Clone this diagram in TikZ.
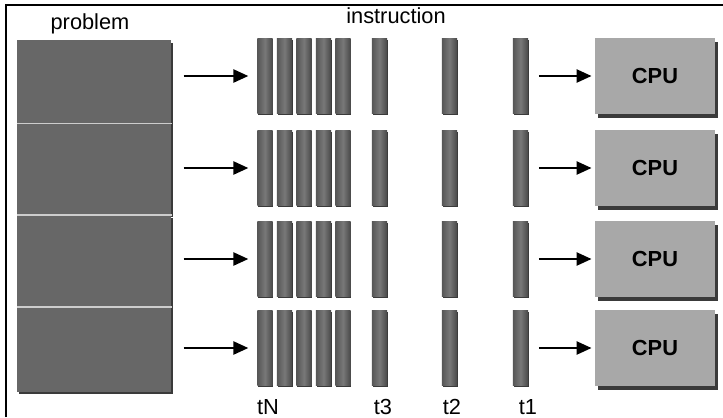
\documentclass[tikz,border=0pt]{standalone}
\usepackage{fontspec}
\setmainfont{Liberation Sans}
\usetikzlibrary{arrows.meta,positioning,shadows}
\definecolor{blockgray}{RGB}{103,103,103}
\definecolor{bargray}{RGB}{120,120,120}
\definecolor{bardark}{RGB}{72,72,72}
\definecolor{cpugray}{RGB}{168,168,168}
\definecolor{edgedark}{RGB}{58,58,58}
\definecolor{seamgray}{RGB}{205,205,205}

\begin{document}
\begin{tikzpicture}[x=0.025cm, y=-0.025cm,
    every node/.style={font=\fontsize{15.5}{18}\selectfont},
    band/.style={fill=blockgray, minimum width=3.85cm, inner sep=0pt,
        drop shadow={shadow xshift=1.4pt, shadow yshift=-1.6pt, fill=edgedark, opacity=1}},
    seam/.style={seamgray, line width=1.2pt},
    bar/.style={minimum width=0.38cm, minimum height=1.875cm, inner sep=0pt,
        left color=bardark!70!bargray, right color=bardark, middle color=bargray,
        drop shadow={shadow xshift=0.6pt, shadow yshift=-1.4pt, fill=edgedark, opacity=1}},
    cpu/.style={fill=cpugray, minimum width=3cm, minimum height=1.9cm, inner sep=0pt,
        font=\fontsize{15.5}{18}\selectfont\bfseries,
        drop shadow={shadow xshift=2.4pt, shadow yshift=-2.8pt, fill=edgedark, opacity=1}},
    link/.style={-{Triangle[length=0.375cm, width=0.33cm]}, line width=1.4pt},
    caption/.style={anchor=base, inner sep=0pt}]
    \useasboundingbox (0,0) rectangle (723,417);

    % Frame (top and left only)
    \draw[line width=1.8pt] (6,417) -- (6,5) -- (723,5);

    % Problem split into four parts
    \node[band, minimum height=2.075cm, anchor=north west] (p1) at (17,40) {};
    \node[band, minimum height=2.275cm, below=0pt of p1] (p2) {};
    \node[band, minimum height=2.275cm, below=0pt of p2] (p3) {};
    \node[band, minimum height=2.125cm, below=0pt of p3] (p4) {};
    \foreach \a in {1,2,3}
        \draw[seam] (p\a.south west) -- (p\a.south east);

    % Instruction streams feeding one CPU each
    \foreach \r/\y in {1/76,2/168,3/259,4/348} {
        \foreach \k/\x in {1/265,2/284.5,3/304,4/323.5,5/343,t3/379.5,t2/449.5,t1/520.5}
            \node[bar] (b\r-\k) at (\x,\y) {};
        \node[cpu] (cpu\r) at (655,\y) {CPU};
        \draw[link, shorten <=0.3cm, shorten >=0.22cm] (p\r.east |- b\r-1.west) -- (b\r-1.west);
        \draw[link, shorten <=0.26cm, shorten >=0.08cm] (b\r-t1.east) -- (cpu\r.west);
    }

    % Labels
    \node[caption] (problem) at (90,29) {problem};
    \node[caption] (instruction) at (396,23) {instruction};
    \foreach \t/\x in {tN/268,t3/383,t2/452,t1/528}
        \node[caption] (lab-\t) at (\x,414) {\t};
\end{tikzpicture}
\end{document}
